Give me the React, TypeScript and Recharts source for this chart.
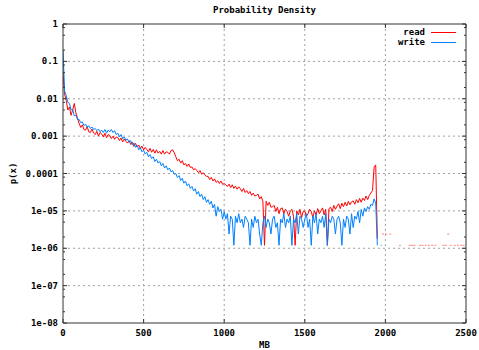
import React from "react";
import {
  ComposedChart,
  Line,
  Scatter,
  XAxis,
  YAxis,
  CartesianGrid,
  ReferenceLine,
} from "recharts";

// sampled every 10 MB, starting at 0
const STEP_MB = 10;

const readP = [
  5e-2, 1.3e-2, 9e-3, 5e-3, 6e-3, 3.6e-3, 5e-3, 7.5e-3, 4.2e-3, 3e-3,
  2.2e-3, 1.7e-3, 2.0e-3, 1.5e-3, 1.45e-3, 1.8e-3, 1.3e-3, 1.25e-3, 1.55e-3, 1.2e-3,
  1.1e-3, 1.35e-3, 1.0e-3, 1.25e-3, 1.15e-3, 9.5e-4, 1.2e-3, 9e-4, 1.1e-3, 1.05e-3,
  8.6e-4, 1.0e-3, 8.2e-4, 9.5e-4, 9.2e-4, 7.6e-4, 8.9e-4, 7.0e-4, 8.4e-4, 7.3e-4,
  6.5e-4, 7.6e-4, 6.0e-4, 6.9e-4, 5.3e-4, 6.4e-4, 5.1e-4, 5.8e-4, 4.6e-4, 5.4e-4,
  4.3e-4, 5.0e-4, 4.4e-4, 3.8e-4, 4.7e-4, 3.7e-4, 4.4e-4, 3.5e-4, 4.3e-4, 3.5e-4,
  3.9e-4, 3.3e-4, 4.1e-4, 3.3e-4, 3.8e-4, 3.7e-4, 3.3e-4, 4.1e-4, 4.3e-4, 3.6e-4,
  2.8e-4, 2.2e-4, 2.4e-4, 1.9e-4, 2.2e-4, 1.7e-4, 1.85e-4, 1.55e-4, 1.8e-4, 1.45e-4,
  1.5e-4, 1.25e-4, 1.35e-4, 1.2e-4, 1.05e-4, 1.2e-4, 9.5e-5, 1.05e-4, 9.2e-5, 8.4e-5,
  8.4e-5, 6.9e-5, 7.9e-5, 6.3e-5, 7.2e-5, 5.8e-5, 6.4e-5, 5.4e-5, 6.3e-5, 5.1e-5,
  5.4e-5, 5.0e-5, 4.5e-5, 5.2e-5, 4.2e-5, 5.0e-5, 4.0e-5, 4.6e-5, 3.8e-5, 4.4e-5,
  3.9e-5, 3.3e-5, 4.0e-5, 3.1e-5, 3.5e-5, 2.9e-5, 3.3e-5, 2.6e-5, 3.0e-5, 2.5e-5,
  2.6e-5, 2.8e-5, 2.1e-5, 2.4e-5, 1.8e-5, 1.2e-6, 1.8e-5, 1.4e-5, 1.7e-5, 1.25e-5,
  1.3e-5, 1.4e-5, 9.6e-6, 1.25e-5, 8.4e-6, 1.15e-5, 1.2e-5, 8.4e-6, 1.1e-5, 9.6e-6,
  7.2e-6, 1.0e-5, 1.1e-5, 7.2e-6, 1.2e-6, 1.0e-5, 7.8e-6, 1.1e-5, 6.6e-6, 9.6e-6,
  1.0e-5, 7.2e-6, 8.4e-6, 1.1e-5, 9.6e-6, 6.6e-6, 1.0e-5, 7.8e-6, 1.15e-5, 8.4e-6,
  1.0e-5, 1.2e-5, 7.8e-6, 1.1e-5, 1.2e-6, 1.15e-5, 1.25e-5, 9.6e-6, 1.4e-5, 1.1e-5,
  1.35e-5, 1.55e-5, 1.15e-5, 1.6e-5, 1.3e-5, 1.7e-5, 1.35e-5, 1.8e-5, 1.45e-5, 1.75e-5,
  1.85e-5, 1.5e-5, 2.0e-5, 1.65e-5, 2.15e-5, 1.7e-5, 2.2e-5, 1.9e-5, 2.5e-5, 2.0e-5,
  2.6e-5, 3.0e-5, 3.5e-5, 1.5e-4, 1.7e-4, 1.8e-6,
];

const writeP = [
  2e-1, 1.6e-2, 1.2e-2, 8e-3, 7.5e-3, 5e-3, 5.2e-3, 3.5e-3, 3.6e-3, 2.8e-3,
  2.8e-3, 2.3e-3, 2.4e-3, 1.9e-3, 2.1e-3, 1.7e-3, 1.9e-3, 1.6e-3, 1.75e-3, 1.5e-3,
  1.6e-3, 1.4e-3, 1.55e-3, 1.3e-3, 1.45e-3, 1.25e-3, 1.5e-3, 1.2e-3, 1.45e-3, 1.3e-3,
  1.5e-3, 1.25e-3, 1.4e-3, 1.1e-3, 1.2e-3, 9.5e-4, 1.1e-3, 8.5e-4, 9.5e-4, 7.8e-4,
  8.4e-4, 6.8e-4, 7.6e-4, 5.8e-4, 6.6e-4, 5.0e-4, 5.6e-4, 4.3e-4, 4.9e-4, 3.8e-4,
  4.2e-4, 3.3e-4, 3.7e-4, 2.8e-4, 3.2e-4, 2.5e-4, 2.8e-4, 2.1e-4, 2.4e-4, 1.9e-4,
  2.1e-4, 1.6e-4, 1.85e-4, 1.4e-4, 1.6e-4, 1.25e-4, 1.4e-4, 1.1e-4, 1.2e-4, 9.5e-5,
  1.0e-4, 7.8e-5, 8.8e-5, 6.5e-5, 7.4e-5, 5.5e-5, 6.3e-5, 4.7e-5, 5.3e-5, 4.0e-5,
  4.5e-5, 3.4e-5, 3.9e-5, 2.8e-5, 3.3e-5, 2.4e-5, 2.8e-5, 2.0e-5, 2.4e-5, 1.7e-5,
  2.0e-5, 1.5e-5, 1.8e-5, 1.2e-5, 1.5e-5, 7.2e-6, 1.3e-5, 9.6e-6, 1.1e-5, 6e-6,
  9.6e-6, 6e-6, 8.4e-6, 2.4e-6, 7.2e-6, 6e-6, 1.2e-6, 7.2e-6, 4.8e-6, 8.4e-6,
  4.8e-6, 6e-6, 3.6e-6, 7.2e-6, 6e-6, 4.8e-6, 1.2e-6, 6e-6, 3.6e-6, 7.2e-6,
  4.8e-6, 6e-6, 2.4e-6, 1.2e-6, 4.8e-6, 7.2e-6, 3.6e-6, 6e-6, 4.8e-6, 2.4e-6,
  6e-6, 7.2e-6, 3.6e-6, 4.8e-6, 1.2e-6, 6e-6, 4.8e-6, 8.4e-6, 3.6e-6, 6e-6,
  4.8e-6, 7.2e-6, 1.2e-6, 6e-6, 4.8e-6, 8.4e-6, 2.4e-6, 7.2e-6, 6e-6, 3.6e-6,
  6e-6, 8.4e-6, 3.6e-6, 6e-6, 1.2e-6, 7.2e-6, 4.8e-6, 8.4e-6, 2.4e-6, 6e-6,
  4.8e-6, 7.2e-6, 3.6e-6, 8.4e-6, 1.2e-6, 6e-6, 4.8e-6, 7.2e-6, 6e-6, 2.4e-6,
  6e-6, 7.2e-6, 4.8e-6, 1.2e-6, 6e-6, 3.6e-6, 7.2e-6, 6e-6, 2.4e-6, 8.4e-6,
  3.6e-6, 7.2e-6, 6e-6, 9.6e-6, 4.8e-6, 1.1e-5, 7.2e-6, 1.2e-5, 9.6e-6, 1.3e-5,
  1.1e-5, 1.5e-5, 1.4e-5, 2.1e-5, 1.6e-5, 1.2e-6,
];

// isolated single-count samples past the end of the lines
const readTailMb = [1985, 2005, 2030, 2090, 2150, 2165, 2180, 2215, 2230, 2250, 2270, 2290, 2310, 2360, 2375, 2390, 2405, 2430, 2450, 2470, 2485];
const readTailP = [2.4e-6, 2.4e-6, 2.4e-6, 1.2e-6, 1.2e-6, 1.2e-6, 1.2e-6, 1.2e-6, 1.2e-6, 1.2e-6, 1.2e-6, 1.2e-6, 1.2e-6, 1.2e-6, 1.2e-6, 2.4e-6, 1.2e-6, 1.2e-6, 1.2e-6, 1.2e-6, 1.2e-6];
const writeTailMb = [1975];
const writeTailP = [1.2e-6];

const xTicks = [0, 500, 1000, 1500, 2000, 2500];
const yMajor = [1, 0.1, 0.01, 0.001, 0.0001, 1e-5, 1e-6, 1e-7, 1e-8];
const yLabels = ["1", "0.1", "0.01", "0.001", "0.0001", "1e-05", "1e-06", "1e-07", "1e-08"];
const yMinor = [
  0.8, 0.5, 0.2, 0.08, 0.05, 0.02, 0.008, 0.005, 0.002, 8e-4, 5e-4, 2e-4,
  8e-5, 5e-5, 2e-5, 8e-6, 5e-6, 2e-6, 8e-7, 5e-7, 2e-7, 8e-8, 5e-8, 2e-8,
];

const table = readP.map((r, i) => ({ mb: i * STEP_MB, read: r, write: writeP[i] }));
const readTail = readTailMb.map((mb, i) => ({ mb, p: readTailP[i] }));
const writeTail = writeTailMb.map((mb, i) => ({ mb, p: writeTailP[i] }));

const W = 479;
const H = 350;
const LEFT = 63;
const RIGHT = 466;
const TOP = 24;
const BOTTOM = 323;
const RED = "#ff0000";
const BLUE = "#0080ff";
const AXIS = "#333";
const FONT = "'DejaVu Sans Mono', monospace";

const textStyle = { fontFamily: FONT, fontSize: 9, fontWeight: 700, fill: "#000" };

function YTick(props: any) {
  const { y, payload } = props;
  const idx = yMajor.indexOf(payload.value);
  const len = idx >= 0 ? 4 : 2;
  return (
    <g>
      <line x1={LEFT} x2={LEFT + len} y1={y} y2={y} stroke={AXIS} />
      <line x1={RIGHT} x2={RIGHT - len} y1={y} y2={y} stroke={AXIS} />
      {idx >= 0 && (
        <text x={LEFT - 5} y={y + 3} textAnchor="end" style={textStyle}>
          {yLabels[idx]}
        </text>
      )}
    </g>
  );
}

function XTick(props: any) {
  const { x, payload } = props;
  return (
    <g>
      <line x1={x} x2={x} y1={BOTTOM} y2={BOTTOM - 4} stroke={AXIS} />
      <line x1={x} x2={x} y1={TOP} y2={TOP + 4} stroke={AXIS} />
      <text x={x} y={336} textAnchor="middle" style={textStyle}>
        {payload.value}
      </text>
    </g>
  );
}

const dotShape = (color: string) => (p: any) => (
  <rect x={p.cx - 1} y={p.cy - 0.5} width={2} height={1} fill={color} />
);

export default function App() {
  return (
    <div style={{ position: "absolute", left: 0, top: 0, width: W, height: H, background: "#fff" }}>
      <ComposedChart
        width={W}
        height={H}
        data={table}
        margin={{ top: TOP, right: W - RIGHT, bottom: 0, left: 0 }}
      >
        <CartesianGrid
          stroke="#a0a0a0"
          strokeDasharray="2 3"
          horizontalValues={yMajor.slice(1, -1)}
          verticalValues={xTicks.slice(1, -1)}
        />
        <XAxis
          dataKey="mb"
          type="number"
          domain={[0, 2500]}
          ticks={xTicks}
          interval={0}
          height={H - BOTTOM}
          tickLine={false}
          tick={XTick}
          axisLine={{ stroke: AXIS }}
          allowDataOverflow
        />
        <YAxis
          type="number"
          scale="log"
          domain={[1e-8, 1]}
          ticks={[...yMajor, ...yMinor]}
          interval={0}
          width={LEFT}
          tickLine={false}
          tick={YTick}
          axisLine={{ stroke: AXIS }}
          allowDataOverflow
        />
        <Line
          dataKey="read"
          stroke={RED}
          strokeWidth={1}
          dot={false}
          type="linear"
          isAnimationActive={false}
        />
        <Line
          dataKey="write"
          stroke={BLUE}
          strokeWidth={1}
          dot={false}
          type="linear"
          isAnimationActive={false}
        />
        <Scatter data={readTail} dataKey="p" shape={dotShape("#ff8080")} isAnimationActive={false} />
        <Scatter data={writeTail} dataKey="p" shape={dotShape("#80c0ff")} isAnimationActive={false} />
        <ReferenceLine y={1} stroke={AXIS} />
        <ReferenceLine x={2500} stroke={AXIS} />
      </ComposedChart>
      <svg
        width={W}
        height={H}
        style={{ position: "absolute", left: 0, top: 0, pointerEvents: "none" }}
      >
        <text x={(LEFT + RIGHT) / 2} y={13} textAnchor="middle" style={textStyle}>
          Probability Density
        </text>
        <text x={(LEFT + RIGHT) / 2} y={348} textAnchor="middle" style={textStyle}>
          MB
        </text>
        <text
          x={0}
          y={0}
          textAnchor="middle"
          transform={`translate(16 ${(TOP + BOTTOM) / 2}) rotate(-90)`}
          style={textStyle}
        >
          p(x)
        </text>
        <text x={425} y={35} textAnchor="end" style={textStyle}>
          read
        </text>
        <line x1={431} x2={456} y1={32.5} y2={32.5} stroke={RED} />
        <text x={425} y={45} textAnchor="end" style={textStyle}>
          write
        </text>
        <line x1={431} x2={456} y1={42.5} y2={42.5} stroke={BLUE} />
      </svg>
    </div>
  );
}
